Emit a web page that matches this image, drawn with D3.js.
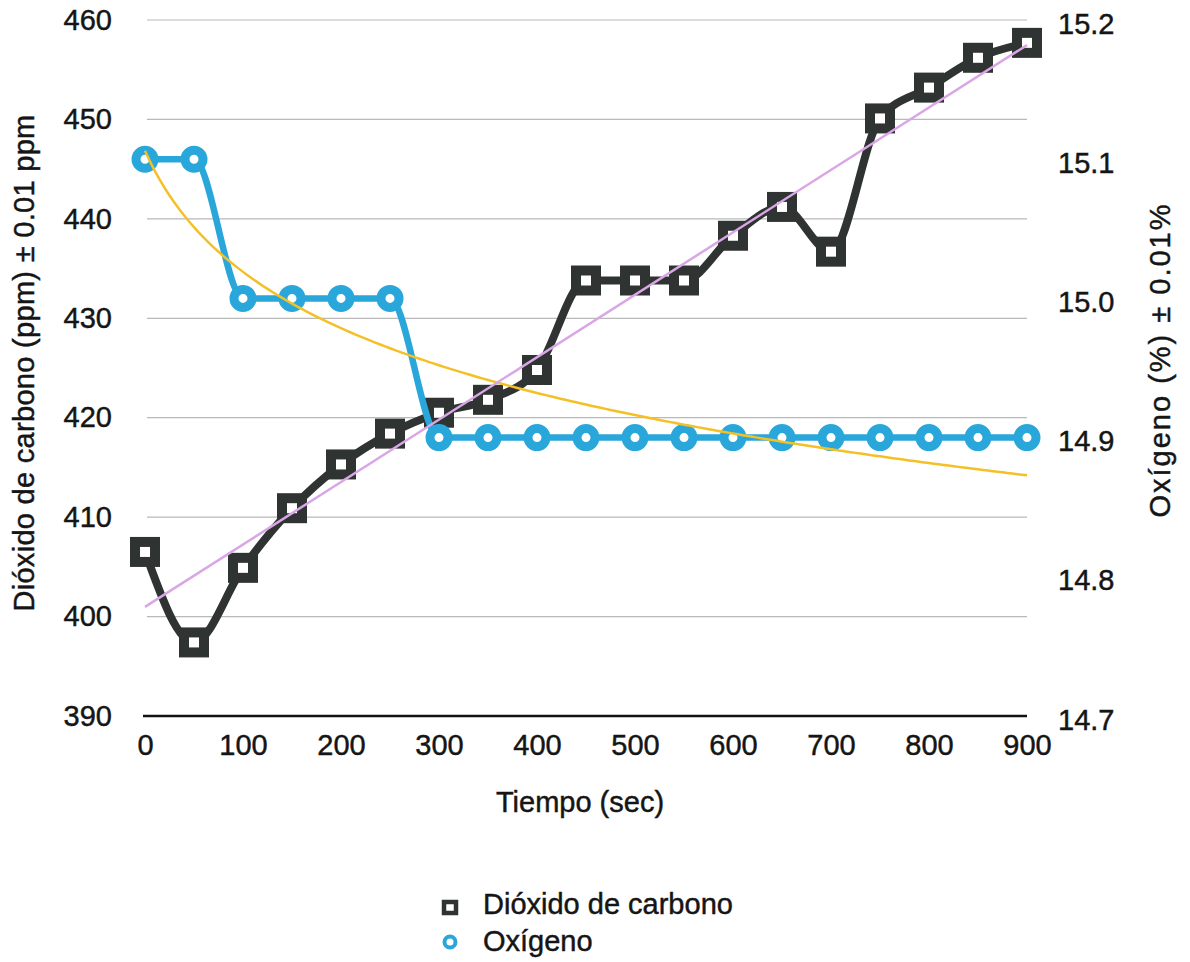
<!DOCTYPE html>
<html>
<head>
  <meta charset="utf-8">
  <title>Dióxido de carbono y Oxígeno</title>
  <script src="https://d3js.org/d3.v7.min.js"></script>
  <style>
    body { margin: 0; background: #fff; }
    text { font-family: "Liberation Sans", Arial, sans-serif; fill: #151515; stroke: #151515; stroke-width: 0.45px; }
  </style>
</head>
<body>
<script>
const width = 1190;
const height = 962;

// data
const tiempo = [0, 50, 100, 150, 200, 250, 300, 350, 400, 450, 500, 550, 600, 650, 700, 750, 800, 850, 900];
const co2 = [406.5, 397.4, 404.9, 410.9, 415.3, 418.4, 420.5, 421.8, 424.8, 433.8, 433.8, 433.8, 438.3, 441.2, 436.7, 450.1, 453.2, 456.2, 457.7];
const oxigeno = [15.1, 15.1, 15.0, 15.0, 15.0, 15.0, 14.9, 14.9, 14.9, 14.9, 14.9, 14.9, 14.9, 14.9, 14.9, 14.9, 14.9, 14.9, 14.9];

const xTicks = [0, 100, 200, 300, 400, 500, 600, 700, 800, 900];
const leftTicks = [390, 400, 410, 420, 430, 440, 450, 460];
const rightTicks = [14.7, 14.8, 14.9, 15.0, 15.1, 15.2];

const colCO2 = '#2f3432';
const colO2 = '#2aa7da';
const colLog = '#f3c127';
const colLin = '#d9a6e6';

const svg = d3.select('body')
  .append('svg')
  .attr('width', width)
  .attr('height', height);

const x = d3.scaleLinear().domain([0, 900]).range([145, 1027]);
const yL = d3.scaleLinear().domain([390, 460]).range([716, 20]);
const yR = d3.scaleLinear().domain([14.7, 15.2]).range([716, 20]);

// grid lines
svg.append('g')
  .selectAll('line')
  .data(leftTicks.filter(d => d > 390))
  .enter()
  .append('line')
  .attr('x1', x(0) + 2)
  .attr('x2', x(900))
  .attr('y1', d => yL(d))
  .attr('y2', d => yL(d))
  .attr('stroke', '#b9b9b9')
  .attr('stroke-width', 1.2);

// base line
svg.append('line')
  .attr('x1', x(0) - 2)
  .attr('x2', x(900))
  .attr('y1', yL(390))
  .attr('y2', yL(390))
  .attr('stroke', '#111')
  .attr('stroke-width', 2.5);

// axes
const fontSize = 29;
svg.append('g')
  .attr('transform', `translate(${x(0)},0)`)
  .call(d3.axisLeft(yL).tickValues(leftTicks).tickSize(0).tickPadding(33))
  .call(g => g.select('.domain').remove())
  .selectAll('text').style('font-size', fontSize + 'px').attr('fill', '#151515');

svg.append('g')
  .attr('transform', `translate(${x(900)},0)`)
  .call(d3.axisRight(yR).tickValues(rightTicks).tickSize(0).tickPadding(31).tickFormat(d3.format('.1f')))
  .call(g => g.select('.domain').remove())
  .selectAll('text').style('font-size', fontSize + 'px').attr('fill', '#151515').attr('dy', '0.45em');

svg.append('g')
  .attr('transform', `translate(0,${yL(390)})`)
  .call(d3.axisBottom(x).tickValues(xTicks).tickSize(0).tickPadding(18))
  .call(g => g.select('.domain').remove())
  .selectAll('text').style('font-size', fontSize + 'px').attr('fill', '#151515');

// axis titles
svg.append('text')
  .attr('transform', 'translate(34,363) rotate(-90)')
  .attr('text-anchor', 'middle')
  .style('font-size', '29px')
  .style('letter-spacing', '0.3px')
  .text('Dióxido de carbono (ppm) ± 0.01 ppm');

svg.append('text')
  .attr('transform', 'translate(1170,360) rotate(-90)')
  .attr('text-anchor', 'middle')
  .style('font-size', '29px')
  .style('letter-spacing', '2px')
  .text('Oxígeno (%) ± 0.01%');

svg.append('text')
  .attr('x', 580)
  .attr('y', 812)
  .attr('text-anchor', 'middle')
  .style('font-size', '29px')
  .text('Tiempo (sec)');

// series lines
const lineCO2 = d3.line()
  .x((d, i) => x(tiempo[i]))
  .y(d => yL(d))
  .curve(d3.curveMonotoneX);

const lineO2 = d3.line()
  .x((d, i) => x(tiempo[i]))
  .y(d => yR(d))
  .curve(d3.curveMonotoneX);

svg.append('path')
  .datum(co2)
  .attr('d', lineCO2)
  .attr('fill', 'none')
  .attr('stroke', colCO2)
  .attr('stroke-width', 8)
  .attr('stroke-linejoin', 'round');

svg.selectAll('rect.co2')
  .data(co2)
  .enter()
  .append('rect')
  .attr('class', 'co2')
  .attr('x', (d, i) => x(tiempo[i]) - 10)
  .attr('y', d => yL(d) - 10)
  .attr('width', 20)
  .attr('height', 20)
  .attr('fill', '#fff')
  .attr('stroke', colCO2)
  .attr('stroke-width', 10);

svg.append('path')
  .datum(oxigeno)
  .attr('d', lineO2)
  .attr('fill', 'none')
  .attr('stroke', colO2)
  .attr('stroke-width', 6.5)
  .attr('stroke-linejoin', 'round');

svg.selectAll('circle.o2')
  .data(oxigeno)
  .enter()
  .append('circle')
  .attr('class', 'o2')
  .attr('cx', (d, i) => x(tiempo[i]))
  .attr('cy', d => yR(d))
  .attr('r', 9)
  .attr('fill', '#fff')
  .attr('stroke', colO2)
  .attr('stroke-width', 9);

// trend lines (least squares on point index 1..n, like the spreadsheet does)
const idx = tiempo.map((t, i) => i + 1);

function fit(xs, ys) {
  const mx = d3.mean(xs), my = d3.mean(ys);
  const b = d3.sum(xs, (v, i) => (v - mx) * (ys[i] - my)) / d3.sum(xs, v => (v - mx) * (v - mx));
  return { a: my - b * mx, b: b };
}

const lin = fit(idx, co2);
const logf = fit(idx.map(Math.log), oxigeno);

const steps = d3.range(0, 901, 5);

svg.append('path')
  .datum(steps)
  .attr('d', d3.line()
    .x(t => x(t))
    .y(t => yR(logf.a + logf.b * Math.log(t / 50 + 1))))
  .attr('fill', 'none')
  .attr('stroke', colLog)
  .attr('stroke-width', 2.5);

svg.append('path')
  .datum([0, 900])
  .attr('d', d3.line()
    .x(t => x(t))
    .y(t => yL(lin.a + lin.b * (t / 50 + 1))))
  .attr('fill', 'none')
  .attr('stroke', colLin)
  .attr('stroke-width', 2.5);

// legend
const legend = svg.append('g');
legend.append('rect')
  .attr('x', 444).attr('y', 902)
  .attr('width', 12).attr('height', 11)
  .attr('fill', '#fff')
  .attr('stroke', colCO2)
  .attr('stroke-width', 4.5);
legend.append('text')
  .attr('x', 483).attr('y', 914)
  .style('font-size', '29px')
  .text('Dióxido de carbono');

legend.append('circle')
  .attr('cx', 450).attr('cy', 942)
  .attr('r', 5.5)
  .attr('fill', '#fff')
  .attr('stroke', colO2)
  .attr('stroke-width', 4);
legend.append('text')
  .attr('x', 483).attr('y', 951)
  .style('font-size', '29px')
  .text('Oxígeno');
</script>
</body>
</html>
